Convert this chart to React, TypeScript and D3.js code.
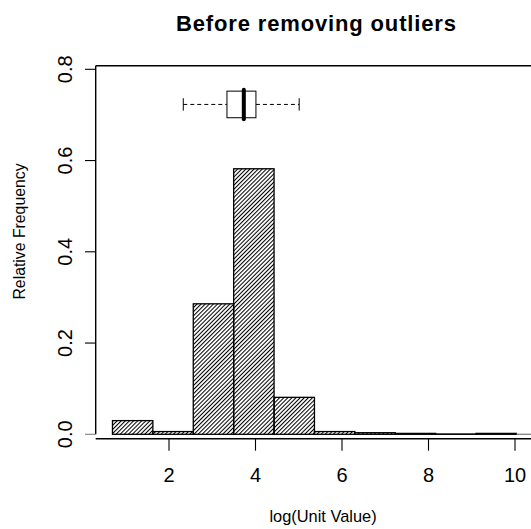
import React from "react";
import * as d3 from "d3";

const breaks = [0.693, 1.627, 2.561, 3.495, 4.429, 5.363, 6.297, 7.231, 8.165, 9.099, 10.033];
const relFreq = [0.03, 0.006, 0.286, 0.582, 0.081, 0.006, 0.0035, 0.002, 0.0007, 0.002];
const xTicks = [2, 4, 6, 8, 10];
const yTicks = [0, 0.2, 0.4, 0.6, 0.8];
const boxStats = { lowWhisker: 2.33, q1: 3.34, median: 3.73, q3: 4.01, highWhisker: 5.01 };
const boxLevel = 0.723;
const title = "Before removing outliers";
const xLabel = "log(Unit Value)";
const yLabel = "Relative Frequency";

export default function App() {
  const W = 531, H = 529;
  const x = d3.scaleLinear().domain([2, 10]).range([169, 515]);
  const y = d3.scaleLinear().domain([0, 0.8]).range([434.3, 69.3]);
  const left = 95.7, top = 65.7, bottom = 438.7;
  const font = "Liberation Sans, Arial, Helvetica, sans-serif";
  const bars = relFreq.map((v, i) => ({ x0: breaks[i], x1: breaks[i + 1], v }));
  const by = y(boxLevel);
  const bh = 13.3;
  const cap = 6.2;
  return (
    <svg width={W} height={H} style={{ position: "absolute", left: 0, top: 0 }} fontFamily={font}>
      <defs>
        <pattern id="hatch" patternUnits="userSpaceOnUse" width={2.9} height={10} patternTransform="rotate(45)">
          <line x1={0.5} y1={0} x2={0.5} y2={10} stroke="#000" strokeWidth={1.05} />
        </pattern>
      </defs>
      <rect x={0} y={0} width={W} height={H} fill="#fff" />
      {/* title */}
      <text x={316} y={30.5} textAnchor="middle" fontWeight="bold" fontSize={22} textLength={280} lengthAdjust="spacing">
        {title}
      </text>
      {/* bars */}
      {bars.map((b, i) => (
        <g key={i}>
          <rect x={x(b.x0)} y={y(b.v)} width={x(b.x1) - x(b.x0)} height={y(0) - y(b.v)} fill="url(#hatch)" />
          <rect x={x(b.x0)} y={y(b.v)} width={x(b.x1) - x(b.x0)} height={y(0) - y(b.v)} fill="none" stroke="#000" strokeWidth={1.3} />
        </g>
      ))}
      {/* baseline */}
      <line x1={x(breaks[breaks.length - 1])} x2={W} y1={y(0)} y2={y(0)} stroke="#808080" strokeWidth={1.3} />
      {/* frame */}
      <line x1={left} x2={W} y1={top} y2={top} stroke="#000" strokeWidth={1.4} />
      <line x1={left} x2={left} y1={top} y2={y(0)} stroke="#000" strokeWidth={1.4} />
      <line x1={left} x2={W} y1={bottom} y2={bottom} stroke="#000" strokeWidth={1.4} />
      {/* y ticks */}
      {yTicks.map((t) => (
        <g key={t}>
          <line x1={85} x2={left} y1={y(t)} y2={y(t)} stroke={t === 0 ? "#808080" : "#000"} strokeWidth={1.1} />
          <text transform={`translate(71.7,${y(t)}) rotate(-90)`} textAnchor="middle" fontSize={20}>
            {d3.format(".1f")(t)}
          </text>
        </g>
      ))}
      {/* x ticks */}
      {xTicks.map((t) => (
        <g key={t}>
          <line x1={x(t)} x2={x(t)} y1={bottom} y2={450.7} stroke="#000" strokeWidth={1.1} />
          <text x={x(t)} y={481.7} textAnchor="middle" fontSize={20}>
            {t}
          </text>
        </g>
      ))}
      {/* axis labels */}
      <text x={323} y={522} textAnchor="middle" fontSize={16.4}>
        {xLabel}
      </text>
      <text transform={`translate(25,231.5) rotate(-90)`} textAnchor="middle" fontSize={15.8}>
        {yLabel}
      </text>
      {/* boxplot */}
      <line x1={x(boxStats.lowWhisker)} x2={x(boxStats.q1)} y1={by} y2={by} stroke="#000" strokeWidth={1} strokeDasharray="4,3" />
      <line x1={x(boxStats.q3)} x2={x(boxStats.highWhisker)} y1={by} y2={by} stroke="#000" strokeWidth={1} strokeDasharray="4,3" />
      <line x1={x(boxStats.lowWhisker)} x2={x(boxStats.lowWhisker)} y1={by - cap} y2={by + cap} stroke="#000" strokeWidth={1} />
      <line x1={x(boxStats.highWhisker)} x2={x(boxStats.highWhisker)} y1={by - cap} y2={by + cap} stroke="#000" strokeWidth={1} />
      <rect x={x(boxStats.q1)} y={by - bh} width={x(boxStats.q3) - x(boxStats.q1)} height={2 * bh} fill="#fff" stroke="#000" strokeWidth={1} />
      <line x1={x(boxStats.median)} x2={x(boxStats.median)} y1={by - bh - 1.5} y2={by + bh + 1.5} stroke="#000" strokeWidth={4} strokeLinecap="round" />
    </svg>
  );
}
